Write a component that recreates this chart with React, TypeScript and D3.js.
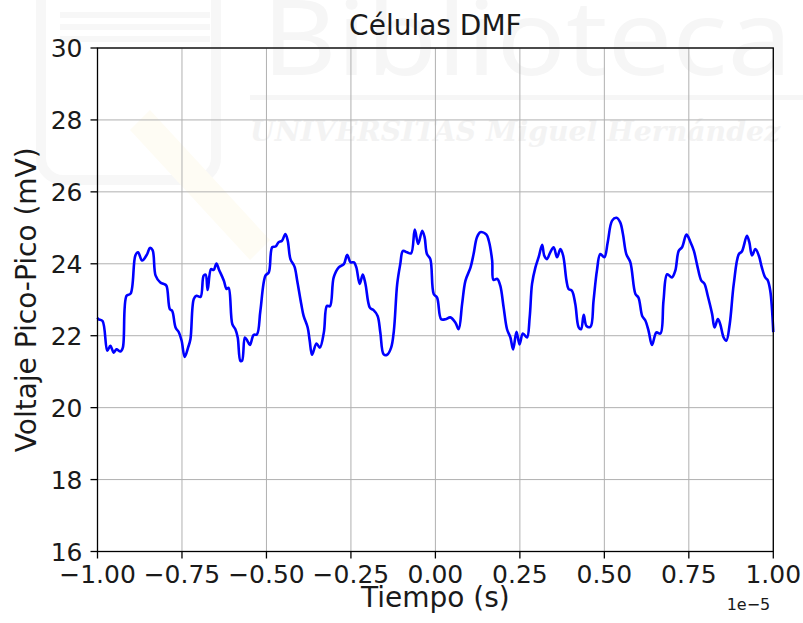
import React from "react";
import * as d3 from "d3";

// Time in units of 1e-5 s (axis offset shown as "1e−5")
const timeE5: number[] = [
  -1.0, -0.997, -0.985, -0.971, -0.962, -0.952, -0.944, -0.932, -0.925, -0.914, -0.902,
  -0.888, -0.880, -0.868, -0.853, -0.845, -0.837, -0.828, -0.814, -0.804, -0.796,
  -0.786, -0.779, -0.769, -0.759, -0.751, -0.742, -0.732, -0.725, -0.715, -0.707,
  -0.695, -0.686, -0.680, -0.674, -0.664, -0.656, -0.648, -0.641, -0.626, -0.618,
  -0.612, -0.601, -0.592, -0.585, -0.577, -0.572, -0.564, -0.557, -0.549, -0.538,
  -0.528, -0.518, -0.503, -0.493, -0.483, -0.473, -0.464, -0.454, -0.444, -0.437,
  -0.429, -0.417, -0.409, -0.397, -0.390, -0.378, -0.372, -0.365, -0.352, -0.342,
  -0.330, -0.321, -0.312, -0.301, -0.286, -0.271, -0.261, -0.251, -0.241, -0.234,
  -0.224, -0.215, -0.207, -0.194, -0.183, -0.171, -0.163, -0.153, -0.143, -0.131,
  -0.123, -0.113, -0.104, -0.096, -0.084, -0.072, -0.061, -0.051, -0.039, -0.032,
  -0.025, -0.015, -0.005, 0.005, 0.017, 0.030, 0.044, 0.059, 0.069, 0.079,
  0.089, 0.104, 0.113, 0.123, 0.133, 0.151, 0.158, 0.168, 0.172, 0.183,
  0.192, 0.202, 0.212, 0.222, 0.230, 0.240, 0.249, 0.259, 0.271, 0.279,
  0.286, 0.296, 0.306, 0.316, 0.322, 0.330, 0.340, 0.350, 0.360, 0.370,
  0.378, 0.388, 0.394, 0.404, 0.414, 0.424, 0.431, 0.439, 0.447, 0.459,
  0.468, 0.478, 0.488, 0.500, 0.510, 0.523, 0.536, 0.547, 0.555, 0.565,
  0.577, 0.592, 0.601, 0.612, 0.621, 0.631, 0.641, 0.654, 0.666, 0.675,
  0.686, 0.700, 0.710, 0.720, 0.730, 0.743, 0.755, 0.765, 0.775, 0.787,
  0.796, 0.806, 0.819, 0.826, 0.836, 0.843, 0.853, 0.861, 0.871, 0.883,
  0.898, 0.907, 0.922, 0.929, 0.937, 0.947, 0.957, 0.966, 0.976, 0.983,
  0.991, 1.0,
];

// Peak-to-peak voltage (mV)
const voltage: number[] = [
  22.50, 22.46, 22.41, 21.58, 21.72, 21.53, 21.62, 21.56, 21.67, 23.11, 23.17,
  24.23, 24.32, 24.09, 24.27, 24.44, 24.38, 23.67, 23.48, 23.44, 23.39,
  22.74, 22.69, 22.23, 22.09, 21.86, 21.41, 21.67, 21.90, 23.02, 23.11,
  23.08, 23.67, 23.70, 23.27, 23.85, 23.83, 24.01, 23.85, 23.53, 23.30,
  23.33, 22.32, 22.18, 21.95, 21.30, 21.31, 21.95, 21.87, 21.74, 22.02,
  22.04, 22.69, 23.67, 23.76, 24.46, 24.48, 24.60, 24.64, 24.83, 24.64,
  24.13, 23.92, 23.53, 22.88, 22.55, 22.23, 21.86, 21.47, 21.78, 21.67,
  22.10, 22.83, 22.82, 23.62, 23.90, 23.99, 24.25, 24.04, 24.04, 23.90,
  23.44, 23.70, 23.44, 22.78, 22.71, 22.55, 22.09, 21.48, 21.47, 21.67,
  22.13, 23.44, 23.99, 24.36, 24.32, 24.29, 24.95, 24.55, 24.92, 24.74,
  24.27, 24.13, 23.16, 23.06, 22.46, 22.46, 22.51, 22.37, 22.18, 22.88,
  23.53, 23.90, 24.27, 24.74, 24.88, 24.81, 24.64, 24.09, 23.55, 23.58,
  23.39, 22.78, 22.18, 21.95, 21.62, 22.11, 21.76, 22.06, 21.95, 22.51,
  23.44, 23.90, 24.20, 24.53, 24.23, 24.13, 24.32, 24.46, 24.18, 24.41,
  24.23, 23.53, 23.30, 23.25, 22.88, 22.23, 22.18, 22.58, 22.27, 22.25,
  22.97, 23.81, 24.27, 24.18, 24.60, 25.20, 25.28, 25.15, 24.83, 24.27,
  24.04, 23.16, 23.06, 22.55, 22.43, 22.13, 21.74, 22.09, 22.06, 22.97,
  23.71, 23.62, 23.81, 24.36, 24.46, 24.81, 24.60, 24.36, 23.95, 23.53,
  23.45, 23.11, 22.60, 22.23, 22.46, 22.32, 21.95, 21.86, 22.32, 23.44,
  24.27, 24.34, 24.78, 24.60, 24.23, 24.41, 24.23, 23.90, 23.62, 23.55,
  23.25, 22.10,
];

const xTicks: number[] = [-1.0, -0.75, -0.5, -0.25, 0.0, 0.25, 0.5, 0.75, 1.0];
const yTicks: number[] = [16, 18, 20, 22, 24, 26, 28, 30];

const title = "Células DMF";
const xLabel = "Tiempo (s)";
const yLabel = "Voltaje Pico-Pico (mV)";
const xOffsetLabel = "1e\u22125";
const watermarkTitle = "Biblioteca";
const watermarkSub = "UNIVERSITAS Miguel Hernández";

const W = 803;
const H = 623;
const M = { left: 97.5, right: 773.3, top: 48, bottom: 551.5 };
const FONT = "'DejaVu Sans', sans-serif";

export default function App() {
  const x = d3.scaleLinear().domain([-1, 1]).range([M.left, M.right]);
  const y = d3.scaleLinear().domain([16, 30]).range([M.bottom, M.top]);
  const pts: [number, number][] = timeE5.map((t, i) => [t, voltage[i]]);
  const line = d3
    .line<[number, number]>()
    .x((d) => x(d[0]))
    .y((d) => y(d[1]))
    .curve(d3.curveCatmullRom.alpha(0.5));

  const fmtX = (v: number) => {
    const s = Math.abs(v).toFixed(2);
    return v < 0 ? "\u2212" + s : s;
  };

  return (
    <div style={{ position: "fixed", left: 0, top: 0, width: W, height: H, background: "#fff" }}>
      <svg width={W} height={H} style={{ display: "block" }}>
        <rect x={0} y={0} width={W} height={H} fill="#ffffff" />
        {/* very faint library watermark */}
        <g>
          <rect x={41} y={-20} width={175} height={200} rx={22} fill="none" stroke="#f7f7f7" strokeWidth={10} />
          <rect x={60} y={12} width={150} height={6} fill="#f7f7f7" />
          <rect x={60} y={24} width={150} height={6} fill="#f7f7f7" />
          <rect x={60} y={36} width={150} height={6} fill="#f7f7f7" />
          <path d="M150,110 L270,240 L250,260 L130,130 Z" fill="#fefcf4" />
          <text x={262} y={75} fontFamily="'Noto Sans', sans-serif" fontSize={104} fill="#f6f6f6" textLength={530} lengthAdjust="spacingAndGlyphs">{watermarkTitle}</text>
          <rect x={250} y={95} width={553} height={5} fill="#f6f6f6" />
          <text x={250} y={141} fontFamily="'DejaVu Serif', serif" fontWeight="bold" fontStyle="italic" fontSize={28} fill="#f3f3f3" textLength={530} lengthAdjust="spacingAndGlyphs">{watermarkSub}</text>
        </g>
        {/* grid */}
        <g stroke="#b0b0b0" strokeWidth={1}>
          {xTicks.map((t) => (
            <line key={"gx" + t} x1={x(t)} x2={x(t)} y1={M.top} y2={M.bottom} />
          ))}
          {yTicks.map((t) => (
            <line key={"gy" + t} x1={M.left} x2={M.right} y1={y(t)} y2={y(t)} />
          ))}
        </g>
        {/* data line */}
        <path d={line(pts) || ""} fill="none" stroke="#0000ff" strokeWidth={2.6} strokeLinejoin="round" strokeLinecap="butt" />
        {/* frame */}
        <rect x={M.left} y={M.top} width={M.right - M.left} height={M.bottom - M.top} fill="none" stroke="#000" strokeWidth={1.3} />
        {/* ticks */}
        <g stroke="#000" strokeWidth={1.3}>
          {xTicks.map((t) => (
            <line key={"tx" + t} x1={x(t)} x2={x(t)} y1={M.bottom} y2={M.bottom + 7} />
          ))}
          {yTicks.map((t) => (
            <line key={"ty" + t} x1={M.left - 7} x2={M.left} y1={y(t)} y2={y(t)} />
          ))}
        </g>
        <g fontFamily={FONT} fontSize={25} fill="#1a1a1a">
          {xTicks.map((t) => (
            <text key={"lx" + t} x={x(t)} y={583} textAnchor="middle">{fmtX(t)}</text>
          ))}
          {yTicks.map((t) => (
            <text key={"ly" + t} x={M.left - 15} y={y(t)} dy="0.36em" textAnchor="end">{String(t)}</text>
          ))}
        </g>
        <text x={M.right - 3} y={610} fontFamily={FONT} fontSize={16} textAnchor="end" fill="#1a1a1a">{xOffsetLabel}</text>
        <text x={(M.left + M.right) / 2} y={607} fontFamily={FONT} fontSize={28} textAnchor="middle" fill="#1a1a1a">{xLabel}</text>
        <text transform={`translate(36,${(M.top + M.bottom) / 2}) rotate(-90)`} fontFamily={FONT} fontSize={28} textAnchor="middle" fill="#1a1a1a">{yLabel}</text>
        <text x={(M.left + M.right) / 2} y={35} fontFamily={FONT} fontSize={28} textAnchor="middle" fill="#1a1a1a">{title}</text>
      </svg>
    </div>
  );
}
